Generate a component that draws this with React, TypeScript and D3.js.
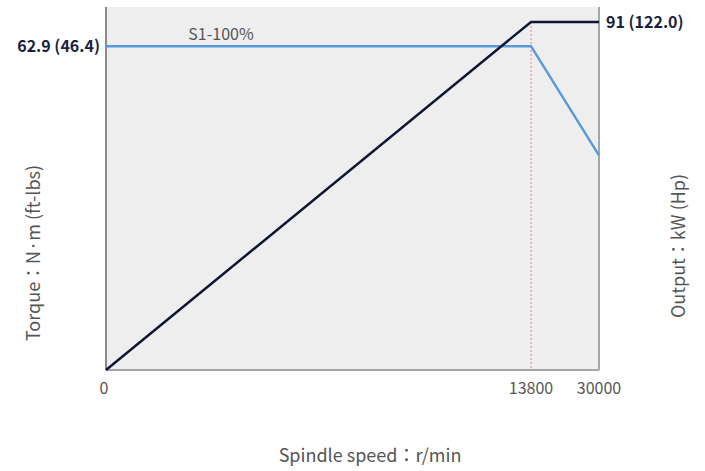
import * as d3 from 'd3';

// spindle speeds (r/min)
const speeds = [0, 13800, 30000];
const speedTicks = ['0', '13800', '30000'];
// S1-100% torque curve, N·m
const torque = [62.9, 62.9, 41.7];
// output curve, kW
const output = [0, 91, 91];

const torqueLabel = '62.9 (46.4)';
const outputLabel = '91 (122.0)';

const W = 705;
const H = 471;
const plot = { left: 106, right: 599, top: 7, bottom: 370 };

export default function App() {
  const x = d3.scaleLinear()
    .domain(speeds)
    .range([plot.left, 531, plot.right]);
  const yT = d3.scaleLinear().domain([0, 70.5]).range([plot.bottom, plot.top]);
  const yP = d3.scaleLinear().domain([0, 94.9]).range([plot.bottom, plot.top]);

  const torqueLine = d3.line<number>()
    .x((_, i) => x(speeds[i]))
    .y(d => yT(d))(torque);
  const outputLine = d3.line<number>()
    .x((_, i) => x(speeds[i]))
    .y(d => yP(d))(output);

  const font = "'Noto Sans CJK JP', 'Noto Sans', sans-serif";

  return (
    <svg width={W} height={H} style={{ position: 'absolute', left: 0, top: 0 }} fontFamily={font}>
      <rect x={plot.left} y={plot.top} width={plot.right - plot.left} height={plot.bottom - plot.top} fill="#eeeeee" />
      {/* frame: left, right, bottom */}
      <line x1={plot.left} x2={plot.left} y1={plot.top} y2={plot.bottom} stroke="#8a8a8a" strokeWidth={2} />
      <line x1={plot.right} x2={plot.right} y1={plot.top} y2={plot.bottom} stroke="#a6a6a6" strokeWidth={2} />
      <line x1={plot.left} x2={plot.right} y1={plot.bottom} y2={plot.bottom} stroke="#a6a6a6" strokeWidth={2} />

      {/* knee marker */}
      <line x1={x(13800)} x2={x(13800)} y1={yP(91)} y2={plot.bottom} stroke="#ec8fa0" strokeWidth={1.2} strokeDasharray="2,2" />

      <path d={torqueLine || undefined} fill="none" stroke="#5b9ad9" strokeWidth={2.5} />
      <path d={outputLine || undefined} fill="none" stroke="#0f1535" strokeWidth={2.5} />

      <text x={221} y={34} dy="0.35em" fontSize={16} fill="#555" textAnchor="middle">S1-100%</text>

      <text x={100} y={yT(62.9)} dy="0.35em" fontSize={16} fontWeight="bold" fill="#1a1f3d" textAnchor="end">{torqueLabel}</text>
      <text x={606} y={yP(91)} dy="0.35em" fontSize={16} fontWeight="bold" fill="#1a1f3d" textAnchor="start">{outputLabel}</text>

      {speeds.map((s, i) => (
        <text key={s} x={x(s) - (i === 0 ? 2 : 0)} y={388} dy="0.35em" fontSize={16} fill="#555" textAnchor="middle">{speedTicks[i]}</text>
      ))}

      <text x={370} y={456} dy="0.35em" fontSize={18} fill="#555" textAnchor="middle">Spindle speed：r/min</text>
      <text transform={`translate(34,253) rotate(-90)`} dy="0.35em" fontSize={18} fill="#555" textAnchor="middle">Torque：N·m (ft-lbs)</text>
      <text transform={`translate(679,246) rotate(-90)`} dy="0.35em" fontSize={18} fill="#555" textAnchor="middle">Output：kW (Hp)</text>
    </svg>
  );
}
